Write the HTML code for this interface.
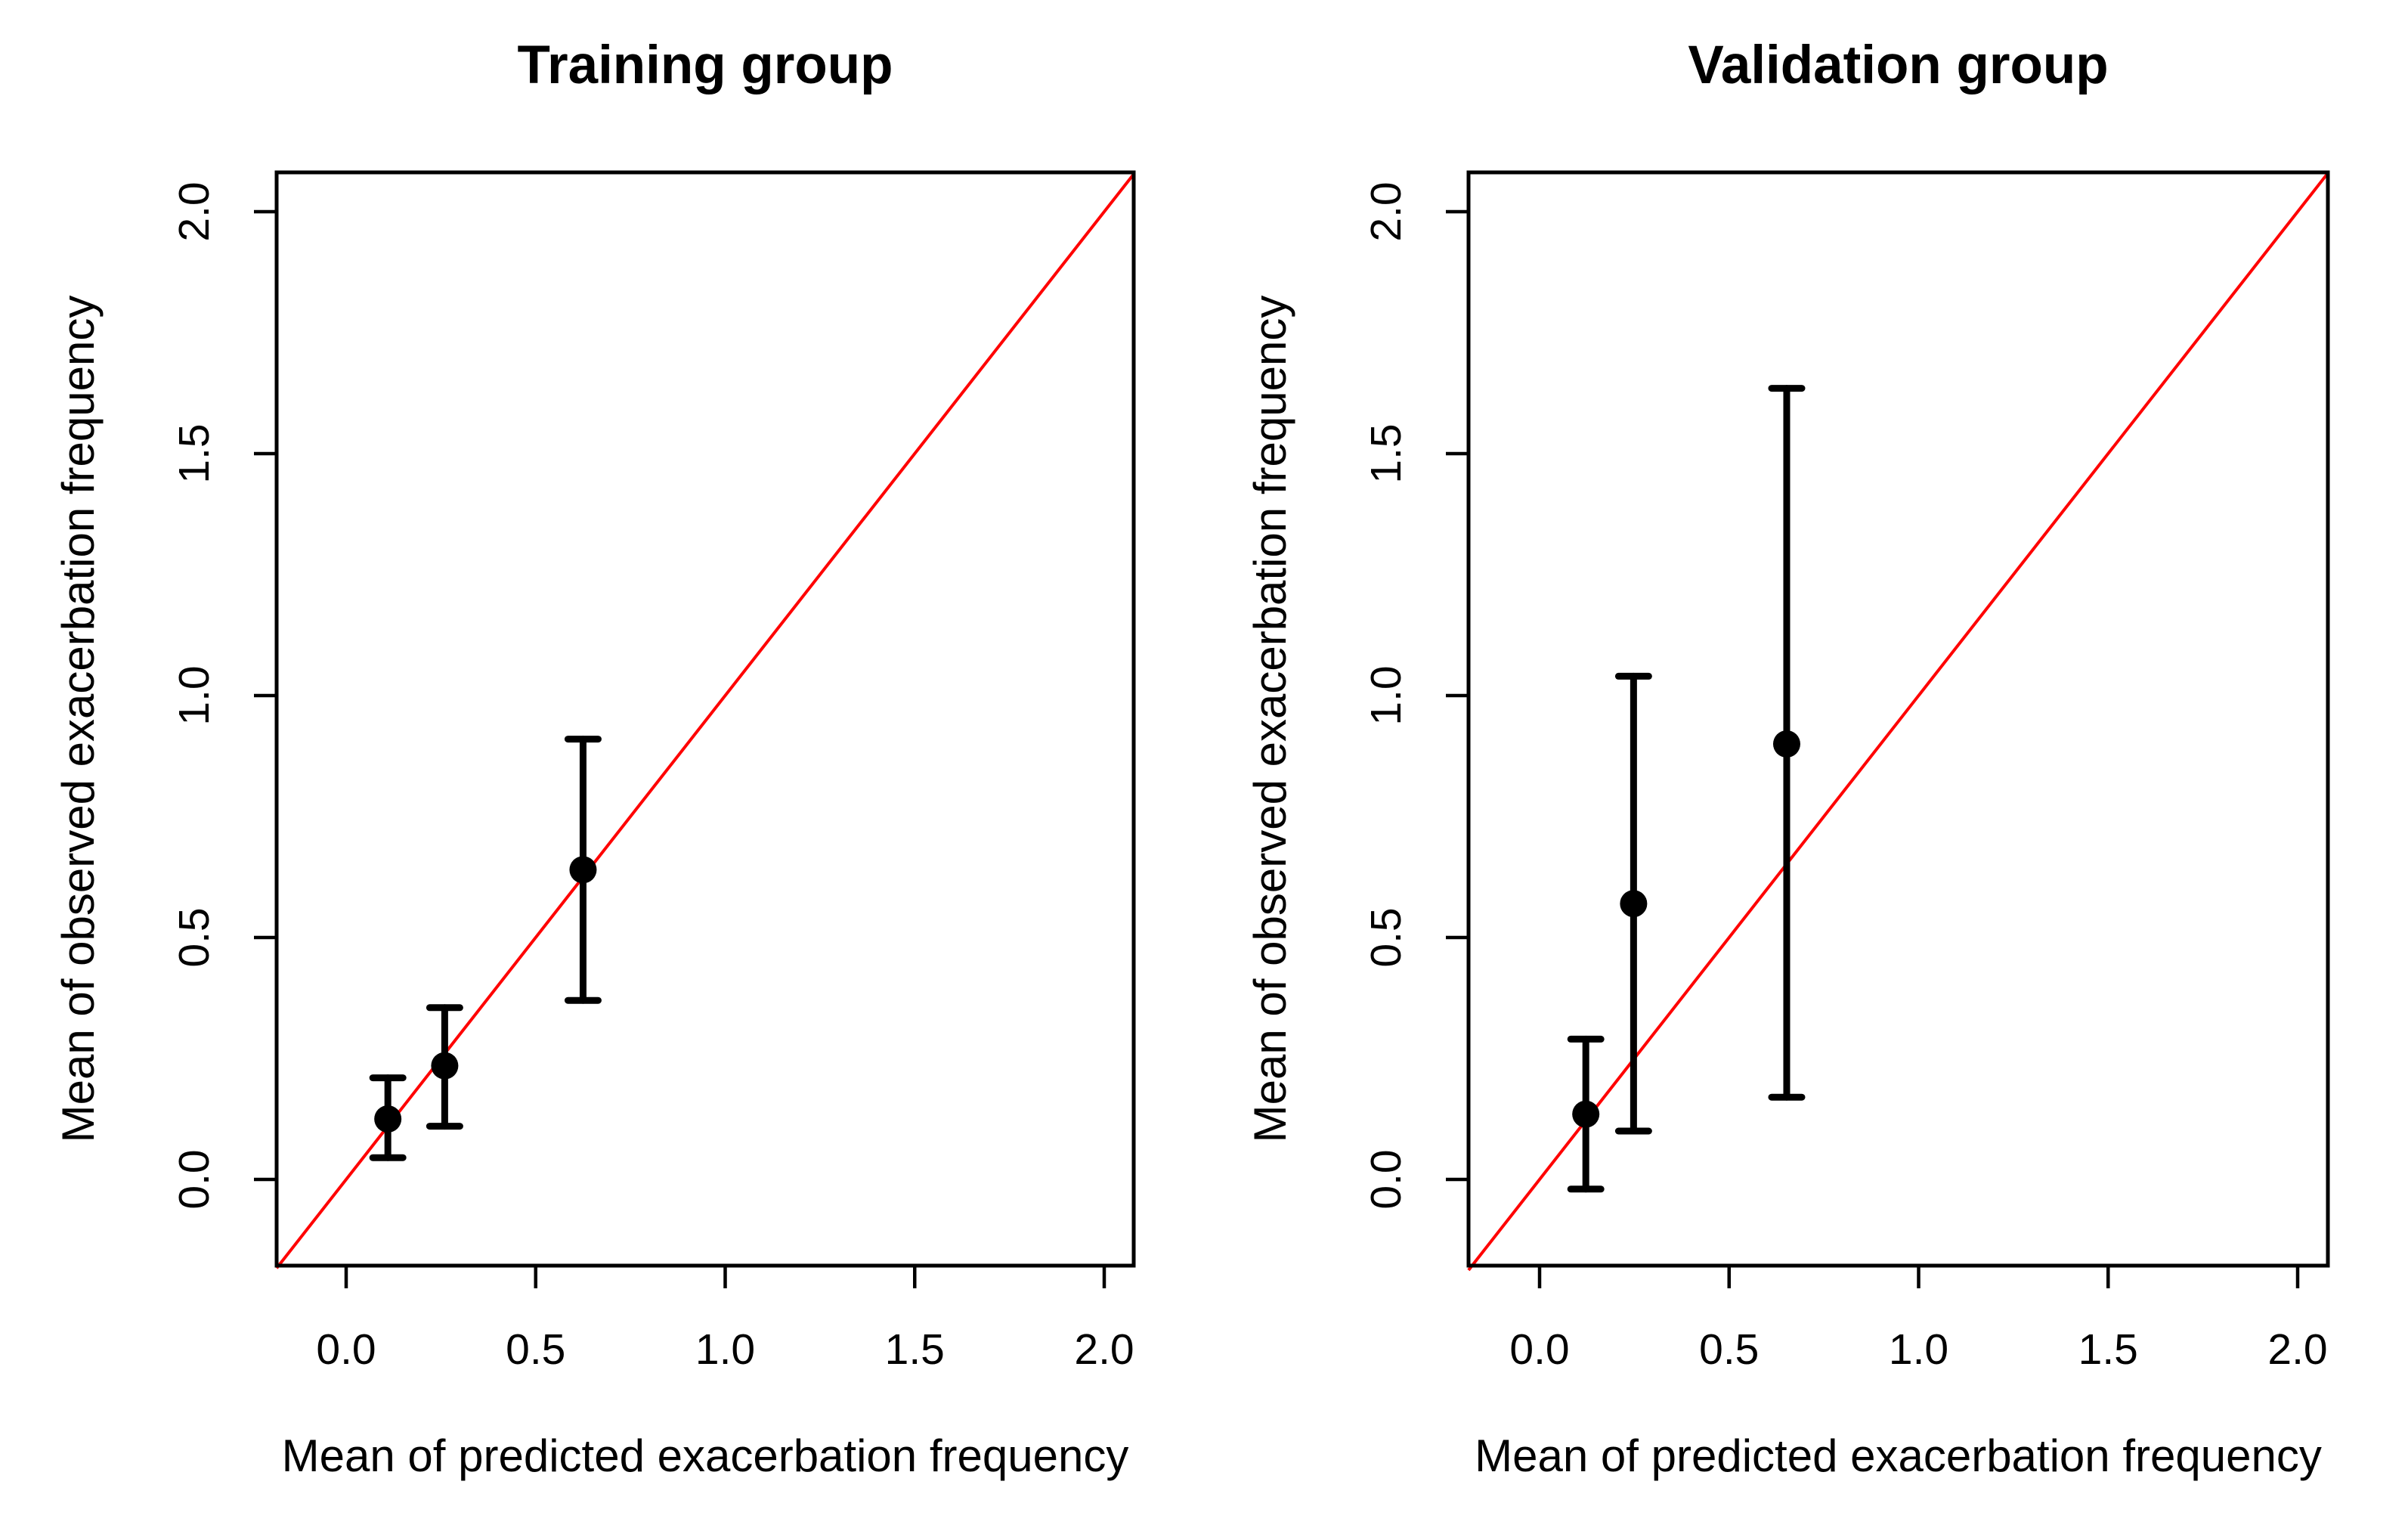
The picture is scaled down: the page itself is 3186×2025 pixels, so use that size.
<!DOCTYPE html>
<html><head><meta charset="utf-8"><style>
html,body{margin:0;padding:0;background:#fff;}
svg{display:block;font-family:"Liberation Sans",Arial,sans-serif;}
</style></head><body>
<svg id="chart" width="3186" height="2025" viewBox="0 0 3186 2025" xmlns="http://www.w3.org/2000/svg"></svg>
<script>
const panelTitles = ["Training group", "Validation group"];
const tickValues = [0.0, 0.5, 1.0, 1.5, 2.0];
const tickLabels = ["0.0", "0.5", "1.0", "1.5", "2.0"];
const trainPred = [0.11, 0.26, 0.625];
const trainObs = [0.125, 0.235, 0.64];
const trainLow = [0.045, 0.11, 0.37];
const trainHigh = [0.21, 0.355, 0.91];
const validPred = [0.122, 0.248, 0.652];
const validObs = [0.135, 0.57, 0.90];
const validLow = [-0.02, 0.10, 0.17];
const validHigh = [0.29, 1.04, 1.635];

(function(){
const NS = "http://www.w3.org/2000/svg";
const svg = document.getElementById("chart");
function mk(tag, attrs, parent) {
  const e = document.createElementNS(NS, tag);
  for (const k in attrs) e.setAttribute(k, attrs[k]);
  (parent || svg).appendChild(e);
  return e;
}
const panels = [
  {left:366, right:1500, x0:458, x2:1461, pred:trainPred, obs:trainObs, low:trainLow, high:trainHigh, key:"training"},
  {left:1943, right:3080, x0:2037, x2:3040, pred:validPred, obs:validObs, low:validLow, high:validHigh, key:"validation"}
];
const plotTop = 228, plotBottom = 1674, y0 = 1560, y2 = 280;
panels.forEach((p, i) => {
  const g = mk("g", {});
  
  
  const sx = v => p.x0 + (p.x2 - p.x0) * v / 2;
  const sy = v => y0 + (y2 - y0) * v / 2;
  const cx = (p.left + p.right) / 2;
  const t = mk("text", {x: cx, y: 110, "text-anchor": "middle", "font-size": 71, "font-weight": "bold"}, g);
  t.textContent = panelTitles[i];
  
  
  const vmin = (p.left - p.x0) / (p.x2 - p.x0) * 2, vmax = (p.right - p.x0) / (p.x2 - p.x0) * 2;
  const dl = mk("line", {x1: sx(vmin), y1: sy(vmin), x2: sx(vmax), y2: sy(vmax), stroke: "#ff0000", "stroke-width": 4}, g);
  
  
  const box = mk("rect", {x: p.left, y: plotTop, width: p.right - p.left, height: plotBottom - plotTop, fill: "none", stroke: "#000", "stroke-width": 5}, g);
  
  
  tickValues.forEach((v, k) => {
    mk("line", {x1: sx(v), y1: plotBottom, x2: sx(v), y2: plotBottom + 30, stroke: "#000", "stroke-width": 4.5}, g);
    const xl = mk("text", {x: sx(v), y: 1804, "text-anchor": "middle", "font-size": 57}, g);
    xl.textContent = tickLabels[k];
    
    
    mk("line", {x1: p.left, y1: sy(v), x2: p.left - 30, y2: sy(v), stroke: "#000", "stroke-width": 4.5}, g);
    const ylx = p.left - 90;
    const yl = mk("text", {x: ylx, y: sy(v), "text-anchor": "middle", "font-size": 57, transform: `rotate(-90 ${ylx} ${sy(v)})`}, g);
    yl.textContent = tickLabels[k];
    
    
  });
  const xt = mk("text", {x: cx, y: 1946, "text-anchor": "middle", "font-size": 60}, g);
  xt.textContent = "Mean of predicted exacerbation frequency";
  
  
  const yx = p.left - 242, yy = (plotTop + plotBottom) / 2;
  const yt = mk("text", {x: yx, y: yy, "text-anchor": "middle", "font-size": 60, transform: `rotate(-90 ${yx} ${yy})`}, g);
  yt.textContent = "Mean of observed exacerbation frequency";
  
  
  p.pred.forEach((v, k) => {
    const x = sx(v);
    const eb = mk("g", {stroke: "#000", "stroke-width": 9, "stroke-linecap": "round"}, g);
    
    
    mk("line", {x1: x, y1: sy(p.low[k]), x2: x, y2: sy(p.high[k])}, eb);
    mk("line", {x1: x - 20, y1: sy(p.low[k]), x2: x + 20, y2: sy(p.low[k])}, eb);
    mk("line", {x1: x - 20, y1: sy(p.high[k]), x2: x + 20, y2: sy(p.high[k])}, eb);
    const c = mk("circle", {cx: x, cy: sy(p.obs[k]), r: 18, fill: "#000"}, g);
    
    
  });
});
})();
</script>
</body></html>
